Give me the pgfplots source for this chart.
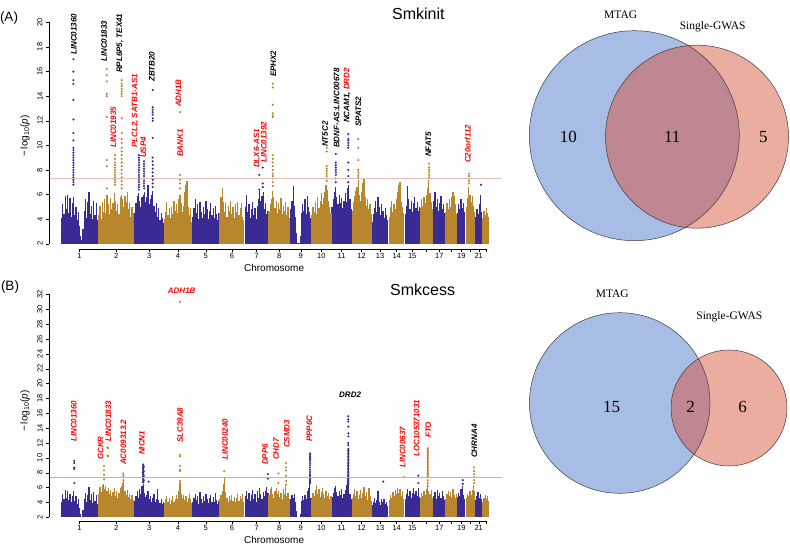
\documentclass[border=0pt]{standalone}
\usepackage{pgfplots}
\pgfplotsset{compat=1.18}
\usepackage{fontspec}
\setmainfont{Liberation Sans}
\newfontfamily\vennfont{Liberation Serif}
\definecolor{mblue}{RGB}{58,42,148}
\definecolor{mgold}{RGB}{184,134,44}
\definecolor{thrA}{RGB}{232,190,186}
\definecolor{thrB}{RGB}{246,160,140}
\definecolor{vblue}{RGB}{168,189,230}
\definecolor{vpink}{RGB}{234,173,160}
\definecolor{vover}{RGB}{190,135,145}
\definecolor{vline}{RGB}{60,60,60}
\tikzset{glab/.style={rotate=90, anchor=west, inner sep=0pt, font=\fontsize{8}{9}\selectfont\bfseries\itshape},
 hlab/.style={anchor=center, inner sep=0pt, font=\fontsize{8}{9}\selectfont\bfseries\itshape}}
\begin{document}
\begin{tikzpicture}
\useasboundingbox (0,0) rectangle (790pt,-545pt);
\pgfplotsset{
 manh/.style={scale only axis, width=452.7pt, xmin=-80, xmax=2958,
  clip mode=individual, axis on top, separate axis lines,
  axis x line*=bottom, axis y line*=left, tick align=outside,
  major tick length=3pt, tick style={black, line width=0.4pt},
  axis line style={black, line width=0.4pt},
  xtick={124.5,370.5,591,785.5,971.5,1147.5,1312.5,1465,1608.5,1747,1882.5,2017,2141.5,2252.5,2357,2453,2538.5,2618,2686.5,2747.5,2803,2852.5},
  xticklabels={1,2,3,4,5,6,7,8,9,10,11,12,13,14,15,,17,,19,,21,},
  tick label style={font=\fontsize{7.5}{8}\selectfont},
  xticklabel style={inner sep=1.5pt},
  yticklabel style={rotate=90, anchor=south},
  /pgf/number format/assume math mode=true,
  xlabel={Chromosome}, ylabel={−\,log\textsubscript{10}(\textit{p})},
  xlabel style={font=\fontsize{9.5}{11}\selectfont, inner sep=1pt},
  ylabel style={font=\fontsize{10.5}{12}\selectfont},
  every axis x label/.style={at={(axis description cs:0.497,-0.079)}, anchor=center},
 },
 comb/.style={ycomb, line width=1.25pt, no markers},
 dots/.style={only marks, mark=*, mark size=0.85pt},
}
\node[anchor=center, font=\fontsize{13.5}{15}\selectfont] at (9pt,-18pt) {(A)};
\node[anchor=center, font=\fontsize{13.5}{15}\selectfont] at (10pt,-287pt) {(B)};
% ---------------- Panel A ----------------
\begin{axis}[manh, at={(49.1pt,-249pt)}, anchor=south west, height=235.5pt,
  ymin=1.57, ymax=20.72, ytick={2,4,...,20},
  x axis line style={shorten <=30.5pt, shorten >=15.7pt},
  y axis line style={shorten <=5.3pt, shorten >=8.9pt},
  every axis y label/.style={at={(axis description cs:-0.053,0.48)}, rotate=90, anchor=center}]
\addplot[comb, mblue] table[row sep=\\]{x y\\
4 4.1\\12 5.2\\20 4.4\\28 5.9\\36 4.8\\44 6.0\\52 4.5\\60 5.7\\68 4.2\\76 5.3\\84 5.8\\92 4.3\\100 5.0\\108 3.9\\116 4.6\\124 3.4\\132 2.6\\140 2.3\\148 3.2\\156 4.7\\164 5.6\\172 4.1\\180 5.4\\188 6.2\\196 4.4\\204 5.1\\212 4.0\\220 5.5\\228 4.3\\236 5.3\\244 3.9\\
496 4.5\\504 5.3\\512 5.9\\520 6.1\\528 5.5\\536 5.0\\544 5.8\\552 6.0\\560 6.2\\568 5.4\\576 5.8\\584 6.8\\592 5.2\\600 5.6\\608 6.0\\616 6.3\\624 5.1\\632 4.6\\640 5.3\\648 4.2\\656 4.9\\664 3.9\\672 4.5\\680 4.1\\688 3.7\\
885 4.2\\893 4.9\\901 5.6\\909 4.5\\917 5.2\\925 4.0\\933 5.4\\941 4.6\\949 4.1\\957 5.0\\965 4.4\\973 5.5\\981 4.8\\989 4.0\\997 4.7\\1005 5.3\\1013 4.3\\1021 4.9\\1029 4.1\\1037 5.1\\1045 4.4\\1053 3.9\\1061 4.5\\
1237 5.0\\1245 6.0\\1253 4.6\\1261 5.2\\1269 4.1\\1277 4.8\\1285 5.4\\1293 4.3\\1301 4.9\\1309 4.0\\1317 5.1\\1325 5.6\\1333 6.3\\1341 5.5\\1349 5.9\\1357 6.2\\1365 4.8\\1373 5.3\\1381 4.4\\1389 4.7\\
1542 4.8\\1550 5.5\\1558 6.7\\1566 5.1\\1574 4.2\\1582 2.9\\1590 2.05\\1598 2.05\\1606 2.6\\1614 4.5\\1622 5.2\\1630 4.7\\1638 5.6\\1646 4.4\\1654 5.9\\1662 5.0\\1670 4.6\\1678 4.1\\
1819 5.0\\1827 5.6\\1835 6.2\\1843 6.6\\1851 5.8\\1859 5.2\\1867 6.0\\1875 5.3\\1883 5.7\\1891 4.9\\1899 5.5\\1907 6.1\\1915 5.4\\1923 6.5\\1931 6.8\\1939 5.6\\1947 4.8\\
2088 3.8\\2096 4.4\\2104 4.9\\2112 5.5\\2120 4.6\\2128 5.8\\2136 5.0\\2144 4.3\\2152 5.2\\2160 4.7\\2168 4.1\\2176 4.9\\2184 4.3\\2192 3.9\\
2310 4.4\\2318 5.1\\2326 6.7\\2334 5.6\\2342 4.8\\2350 5.5\\2358 4.6\\2366 5.3\\2374 5.8\\2382 4.9\\2390 5.4\\2398 4.7\\2406 5.0\\
2502 5.5\\2510 6.2\\2518 5.0\\2526 5.6\\2534 4.7\\2542 5.3\\2550 5.9\\2558 4.8\\2566 5.2\\2574 4.5\\
2661 4.5\\2669 5.2\\2677 4.8\\2685 5.6\\2693 4.9\\2701 5.3\\2709 4.6\\
2783 4.2\\2791 4.8\\2799 4.4\\2807 5.2\\2815 6.0\\2823 4.6\\
};
\addplot[comb, mgold] table[row sep=\\]{x y\\
253 4.3\\261 5.1\\269 4.0\\277 5.4\\285 4.6\\293 5.6\\301 4.5\\309 6.0\\317 5.2\\325 4.4\\333 5.7\\341 4.8\\349 5.3\\357 6.1\\365 5.5\\373 4.7\\381 5.2\\389 4.4\\397 5.8\\405 6.0\\413 5.6\\421 5.0\\429 5.9\\437 5.4\\445 6.2\\453 4.8\\461 5.3\\469 4.2\\477 5.0\\485 4.5\\
694 4.0\\702 4.6\\710 5.4\\718 4.3\\726 4.9\\734 4.1\\742 5.0\\750 4.4\\758 5.5\\766 4.7\\774 5.2\\782 4.5\\790 5.6\\798 6.0\\806 5.3\\814 4.6\\822 5.1\\830 6.2\\838 6.8\\846 7.1\\854 5.0\\862 4.3\\870 4.9\\878 3.8\\
1066 4.5\\1074 5.8\\1082 6.5\\1090 5.4\\1098 4.6\\1106 5.3\\1114 4.2\\1122 5.1\\1130 4.7\\1138 5.5\\1146 4.4\\1154 5.0\\1162 4.1\\1170 5.2\\1178 4.6\\1186 5.4\\1194 4.3\\1202 4.9\\1210 5.3\\1218 4.2\\1226 3.9\\
1396 4.6\\1404 5.2\\1412 5.6\\1420 6.3\\1428 5.8\\1436 4.9\\1444 5.5\\1452 4.5\\1460 5.3\\1468 4.8\\1476 5.7\\1484 4.4\\1492 5.1\\1500 4.7\\1508 5.4\\1516 4.3\\1524 5.0\\1532 4.1\\
1683 4.3\\1691 5.0\\1699 4.6\\1707 5.4\\1715 4.4\\1723 5.8\\1731 4.9\\1739 5.5\\1747 6.1\\1755 5.2\\1763 5.7\\1771 6.2\\1779 6.8\\1787 6.4\\1795 5.5\\1803 5.0\\1811 4.5\\
1954 4.7\\1962 5.4\\1970 5.9\\1978 6.3\\1986 6.6\\1994 7.2\\2002 6.0\\2010 5.5\\2018 6.2\\2026 6.9\\2034 7.3\\2042 5.8\\2050 5.1\\2058 5.6\\2066 4.8\\2074 5.2\\2082 4.4\\
2203 4.2\\2211 5.0\\2219 5.5\\2227 4.6\\2235 5.2\\2243 4.8\\2251 5.6\\2259 6.2\\2267 6.8\\2275 7.0\\2283 5.4\\2291 5.0\\2299 4.5\\
2412 4.9\\2420 5.6\\2428 5.1\\2436 5.8\\2444 5.3\\2452 6.0\\2460 6.5\\2468 7.2\\2476 6.1\\2484 5.4\\2492 4.8\\
2583 4.6\\2591 5.3\\2599 4.8\\2607 5.6\\2615 5.0\\2623 5.8\\2631 6.2\\2639 5.9\\2647 5.2\\2655 4.4\\
2720 5.0\\2728 5.7\\2736 6.6\\2744 6.0\\2752 5.4\\2760 5.9\\2768 5.1\\2776 4.6\\
2831 4.1\\2839 4.7\\2847 4.3\\2855 4.9\\2863 4.5\\2871 4.2\\
};
\fill[white] (axis cs:-80,1.57) rectangle (axis cs:2958,1.99);
\addplot[dots, mblue] table[row sep=\\]{x y\\
83 17.0\\83 16.0\\83 15.3\\83 15.0\\83 13.7\\83 12.1\\83 11.0\\83 10.4\\83 9.8\\83 9.6\\83 9.4\\83 9.2\\83 9.0\\83 8.8\\83 8.6\\83 8.4\\83 8.2\\83 8.0\\83 7.8\\83 7.6\\83 7.4\\83 7.2\\83 7.0\\83 6.8\\
523 9.2\\523 9.0\\523 8.8\\523 8.6\\523 8.4\\523 8.2\\523 8.0\\523 7.8\\523 7.6\\523 7.4\\523 7.2\\523 7.0\\523 6.8\\523 6.6\\523 6.4\\
557 8.7\\557 8.5\\557 8.3\\557 8.1\\557 7.9\\557 7.7\\557 7.5\\557 7.3\\557 7.1\\557 6.9\\557 6.7\\557 6.5\\
615 14.5\\615 13.1\\615 12.9\\615 12.7\\615 12.5\\615 12.2\\615 12.0\\615 10.6\\615 9.0\\615 8.7\\615 8.4\\615 8.1\\615 7.8\\615 7.5\\615 7.2\\615 6.9\\615 6.6\\
1331 7.6\\1331 6.4\\1354 8.2\\1354 6.9\\1354 6.6\\
1844 9.3\\1844 8.6\\1844 8.4\\1844 8.2\\1844 8.0\\1844 7.8\\1844 7.6\\1844 7.3\\1844 7.0\\
1928 10.9\\1928 10.5\\1928 10.4\\1928 10.2\\1928 10.0\\1928 9.8\\1928 8.6\\1928 8.0\\1928 7.5\\1928 7.0\\
2818 6.8\\
};
\addplot[dots, mgold] table[row sep=\\]{x y\\
307 16.2\\307 15.7\\307 15.2\\307 14.2\\307 14.0\\307 12.3\\307 8.8\\307 8.3\\307 6.5\\
362 9.2\\362 8.9\\362 8.6\\362 8.4\\362 8.2\\362 8.0\\362 7.8\\362 7.6\\362 7.4\\362 7.2\\362 7.0\\362 6.8\\
407 15.3\\407 15.0\\407 14.8\\407 14.6\\407 14.4\\407 14.2\\407 14.0\\407 12.2\\407 11.0\\407 10.5\\407 10.2\\407 9.8\\407 9.5\\407 9.2\\407 8.9\\407 8.6\\407 8.3\\407 8.0\\407 7.7\\407 7.4\\407 7.1\\407 6.8\\407 6.5\\
799 12.7\\799 7.6\\799 7.2\\799 6.9\\799 6.5\\
1421 15.0\\1421 14.7\\1421 13.3\\1421 12.6\\1421 12.4\\1421 12.3\\1421 9.2\\1421 8.9\\1421 8.6\\1421 8.3\\1421 8.0\\1421 7.7\\1421 7.5\\1421 7.3\\1421 7.0\\1421 6.7\\
1783 9.8\\1783 9.5\\1783 8.3\\1783 8.1\\1783 7.9\\1783 7.7\\1783 7.5\\1783 7.3\\1783 7.1\\
1995 10.5\\1995 9.8\\1995 8.8\\1995 8.0\\1995 7.8\\1995 7.6\\1995 7.4\\
2470 8.5\\2470 8.2\\2470 8.0\\2470 7.8\\2470 7.6\\2470 7.4\\
2738 7.7\\2738 7.5\\2738 7.3\\2738 7.1\\2738 6.9\\
};
\draw[thrA, line width=1pt] (axis cs:-80,7.3) -- (axis cs:2958,7.3);
\node[glab] at (axis cs:87,17.34) {LINC01360};
\node[glab] at (axis cs:289,16.77) {LINC01833};
\node[glab] at (axis cs:396,15.88) {RPL6P5, TEX41};
\node[glab] at (axis cs:609,15.15) {ZBTB20};
\node[glab, text=red] at (axis cs:351,9.78) {LINC01935};
\node[glab, text=red] at (axis cs:497,9.78) {PLCL2, SATB1-AS1};
\node[glab, text=red] at (axis cs:552,8.97) {USP4};
\node[glab, text=red] at (axis cs:787,13.11) {ADH1B};
\node[glab, text=red] at (axis cs:799,9.05) {BANK1};
\node[glab, text=red] at (axis cs:1313,8.15) {DLX6-AS1};
\node[glab, text=red] at (axis cs:1362,8.56) {LINC01392};
\node[glab] at (axis cs:1425,15.55) {EPHX2};
\node[glab] at (axis cs:1772,9.86) {NT5C2};
\node[glab] at (axis cs:1850,9.78) {BDNF-AS:LINC00678};
\node[glab] at (axis cs:1921,11.81) {NCAM1, \textcolor{red}{DRD2}};
\node[glab] at (axis cs:1995,11.49) {SPATS2};
\node[glab] at (axis cs:2465,9.05) {NFAT5};
\node[glab, text=red] at (axis cs:2729,8.56) {C20orf112};
\node[font=\fontsize{16}{18}\selectfont] at (axis description cs:0.8156,1.0) {Smkinit};
\end{axis}
% ---------------- Panel B ----------------
\begin{axis}[manh, at={(49.1pt,-521pt)}, anchor=south west, height=234pt,
  ymin=1.5, ymax=33, ytick={2,4,...,32},
  x axis line style={shorten <=30.5pt, shorten >=15.7pt},
  y axis line style={shorten <=3.7pt, shorten >=7.4pt},
  every axis y label/.style={at={(axis description cs:-0.053,0.47)}, rotate=90, anchor=center}]
\addplot[comb, mblue] table[row sep=\\]{x y\\
4 4.0\\12 5.1\\20 4.5\\28 5.7\\36 4.6\\44 5.5\\52 4.3\\60 5.2\\68 4.0\\76 4.8\\84 5.6\\92 4.2\\100 4.9\\108 3.8\\116 4.4\\124 3.3\\132 2.5\\140 2.05\\148 3.0\\156 4.5\\164 5.3\\172 4.1\\180 5.0\\188 6.1\\196 4.3\\204 5.2\\212 3.9\\220 5.4\\228 4.2\\236 5.0\\244 3.8\\
496 4.2\\504 4.9\\512 5.5\\520 4.6\\528 5.8\\536 5.1\\544 6.2\\552 6.5\\560 5.3\\568 4.7\\576 5.0\\584 5.6\\592 4.4\\600 4.9\\608 4.1\\616 4.6\\624 5.2\\632 4.0\\640 4.5\\648 5.8\\656 4.3\\664 3.9\\672 4.4\\680 3.8\\688 4.1\\
885 4.0\\893 4.6\\901 5.2\\909 4.3\\917 4.9\\925 3.8\\933 5.4\\941 4.4\\949 3.9\\957 4.8\\965 4.2\\973 5.1\\981 4.5\\989 3.9\\997 4.6\\1005 5.0\\1013 4.1\\1021 4.7\\1029 4.0\\1037 5.3\\1045 4.3\\1053 3.8\\1061 4.2\\
1237 4.8\\1245 5.6\\1253 4.5\\1261 5.3\\1269 4.2\\1277 5.0\\1285 5.7\\1293 4.4\\1301 5.1\\1309 4.0\\1317 5.5\\1325 4.6\\1333 5.9\\1341 5.2\\1349 4.5\\1357 5.4\\1365 4.8\\1373 5.6\\1381 6.1\\1389 5.3\\
1542 4.4\\1550 5.0\\1558 4.6\\1566 5.2\\1574 4.1\\1582 2.8\\1590 2.05\\1598 2.05\\1606 2.5\\1614 4.2\\1622 4.8\\1630 4.3\\1638 5.0\\1646 4.5\\1654 5.6\\1662 5.9\\1670 7.0\\1678 4.6\\
1819 4.7\\1827 5.3\\1835 5.9\\1843 6.2\\1851 5.4\\1859 4.8\\1867 5.6\\1875 5.0\\1883 5.8\\1891 4.6\\1899 5.2\\1907 5.7\\1915 6.3\\1923 7.5\\1931 6.8\\1939 5.1\\1947 4.5\\
2088 3.6\\2096 4.1\\2104 4.6\\2112 3.9\\2120 4.3\\2128 5.6\\2136 4.0\\2144 3.7\\2152 4.5\\2160 4.0\\2168 4.4\\2176 3.8\\2184 4.1\\2192 3.5\\
2310 4.5\\2318 5.2\\2326 5.8\\2334 4.9\\2342 5.5\\2350 4.6\\2358 5.3\\2366 6.0\\2374 5.1\\2382 5.6\\2390 4.8\\2398 5.9\\2406 4.7\\
2502 4.8\\2510 5.4\\2518 4.5\\2526 5.7\\2534 4.9\\2542 5.3\\2550 4.6\\2558 5.5\\2566 4.8\\2574 4.3\\
2661 4.7\\2669 5.3\\2677 4.9\\2685 5.8\\2693 6.2\\2701 5.0\\2709 4.5\\
2783 4.3\\2791 4.9\\2799 5.4\\2807 4.6\\2815 5.1\\2823 4.4\\
};
\addplot[comb, mgold] table[row sep=\\]{x y\\
253 5.2\\261 6.1\\269 5.4\\277 6.3\\285 6.5\\293 5.8\\301 6.2\\309 5.5\\317 6.0\\325 5.1\\333 5.7\\341 4.8\\349 5.4\\357 6.0\\365 4.9\\373 5.5\\381 4.6\\389 5.3\\397 5.9\\405 6.2\\413 6.6\\421 6.9\\429 5.6\\437 5.0\\445 5.7\\453 4.7\\461 5.2\\469 4.4\\477 5.0\\485 4.3\\
694 3.9\\702 4.4\\710 4.8\\718 4.1\\726 4.6\\734 3.8\\742 4.3\\750 4.9\\758 4.0\\766 4.5\\774 5.0\\782 4.4\\790 5.6\\798 6.6\\806 5.2\\814 4.6\\822 5.0\\830 4.3\\838 4.8\\846 4.1\\854 4.6\\862 5.2\\870 4.4\\878 3.9\\
1066 4.4\\1074 5.0\\1082 5.6\\1090 6.5\\1098 7.3\\1106 5.4\\1114 4.6\\1122 4.1\\1130 4.8\\1138 4.3\\1146 5.0\\1154 4.2\\1162 4.7\\1170 4.0\\1178 4.6\\1186 5.1\\1194 4.2\\1202 4.8\\1210 4.4\\1218 5.2\\1226 4.0\\
1396 5.0\\1404 5.8\\1412 6.1\\1420 5.2\\1428 4.6\\1436 5.5\\1444 6.0\\1452 5.1\\1460 5.6\\1468 4.7\\1476 5.3\\1484 4.5\\1492 5.8\\1500 5.2\\1508 6.2\\1516 4.8\\1524 5.3\\1532 4.4\\
1683 4.5\\1691 5.3\\1699 4.8\\1707 5.7\\1715 6.3\\1723 5.1\\1731 5.8\\1739 4.7\\1747 5.4\\1755 6.0\\1763 5.2\\1771 4.6\\1779 5.5\\1787 4.9\\1795 5.3\\1803 4.4\\1811 4.8\\
1954 4.6\\1962 5.2\\1970 5.8\\1978 4.9\\1986 5.5\\1994 4.4\\2002 5.0\\2010 5.7\\2018 4.6\\2026 5.3\\2034 6.1\\2042 4.8\\2050 5.4\\2058 4.3\\2066 6.0\\2074 4.9\\2082 4.2\\
2203 4.3\\2211 5.0\\2219 4.6\\2227 5.4\\2235 4.8\\2243 5.7\\2251 5.1\\2259 6.0\\2267 5.3\\2275 5.8\\2283 4.9\\2291 5.5\\2299 4.5\\
2412 4.6\\2420 5.3\\2428 4.9\\2436 5.6\\2444 5.0\\2452 5.8\\2460 6.6\\2468 5.5\\2476 5.1\\2484 5.7\\2492 4.6\\
2583 4.4\\2591 5.1\\2599 5.6\\2607 4.8\\2615 5.4\\2623 4.7\\2631 5.8\\2639 5.0\\2647 4.6\\2655 5.2\\
2720 4.6\\2728 5.2\\2736 4.8\\2744 5.5\\2752 5.0\\2760 5.7\\2768 6.4\\2776 5.6\\
2831 4.0\\2839 4.6\\2847 5.0\\2855 4.4\\2863 4.8\\2871 4.2\\
};
\fill[white] (axis cs:-80,1.5) rectangle (axis cs:2958,1.99);
\addplot[dots, mblue] table[row sep=\\]{x y\\
89 9.6\\89 9.3\\89 8.7\\89 8.5\\89 6.6\\
552 9.1\\552 8.9\\552 8.7\\552 8.5\\552 8.3\\552 8.1\\552 7.9\\552 7.7\\552 7.5\\552 7.3\\552 7.1\\552 6.9\\552 6.7\\
549 8.6\\549 8.0\\549 7.4\\549 6.8\\555 8.8\\555 8.2\\555 7.6\\555 7.0\\
588 6.8\\1388 7.8\\1388 7.2\\
1671 10.6\\1671 10.4\\1671 10.2\\1671 10.0\\1671 9.8\\1671 9.6\\1671 9.3\\1671 9.0\\1671 8.7\\1671 8.4\\1671 8.1\\1671 7.8\\1671 7.6\\1671 7.4\\1671 7.2\\1671 7.0\\1671 6.8\\1671 6.6\\
1928 15.6\\1928 15.2\\1928 14.9\\1928 14.2\\1928 13.3\\1928 12.9\\1928 12.0\\1928 11.7\\1928 11.2\\1928 11.0\\1928 10.8\\1928 10.6\\1928 10.4\\1928 10.2\\1928 10.0\\1928 9.8\\1928 9.6\\1928 9.4\\1928 9.2\\1928 9.0\\1928 8.8\\1928 8.6\\1928 8.4\\1928 8.2\\1928 8.0\\1928 7.8\\1928 7.6\\1928 7.4\\1928 7.2\\1928 7.0\\1928 6.8\\1928 6.6\\1928 6.4\\
2163 6.8\\2398 7.6\\2398 6.6\\2696 7.0\\2696 6.5\\
};
\addplot[dots, mgold] table[row sep=\\]{x y\\
289 8.9\\289 8.3\\289 7.7\\289 7.1\\
312 11.4\\312 10.3\\316 11.3\\316 10.2\\
418 7.9\\418 7.6\\418 7.4\\418 7.0\\
799 31.0\\799 10.4\\799 10.2\\799 8.9\\799 8.4\\799 8.2\\799 6.9\\799 6.6\\799 6.3\\
1096 8.2\\1459 7.9\\1459 6.6\\
1510 9.3\\1510 8.7\\1510 8.3\\1510 7.6\\1510 6.9\\1510 6.4\\
2302 7.4\\
2461 11.3\\2461 11.1\\2461 10.9\\2461 10.7\\2461 10.5\\2461 10.3\\2461 10.1\\2461 9.9\\2461 9.7\\2461 9.5\\2461 9.3\\2461 9.1\\2461 8.9\\2461 8.7\\2461 8.5\\2461 8.3\\2461 8.1\\2461 7.9\\2461 7.7\\2461 7.5\\2461 7.0\\2461 6.6\\2461 6.2\\
2772 8.7\\2772 8.2\\2772 7.8\\2772 7.4\\2772 7.0\\2772 6.6\\
};
\draw[thrB, line width=1pt] (axis cs:-80,7.3) -- (axis cs:2958,7.3);
\node[hlab, text=red] at (axis cs:810,32.5) {ADH1B};
\node[glab, text=red] at (axis cs:87,12.13) {LINC01360};
\node[glab, text=red] at (axis cs:266,9.71) {GCKR};
\node[glab, text=red] at (axis cs:317,12.13) {LINC01833};
\node[glab, text=red] at (axis cs:418,9.04) {AC009313.2};
\node[glab, text=red] at (axis cs:542,10.38) {NICN1};
\node[glab, text=red] at (axis cs:799,12.0) {SLC39A8};
\node[glab, text=red] at (axis cs:1101,9.71) {LINC00240};
\node[glab, text=red] at (axis cs:1369,9.04) {DPP6};
\node[glab, text=red] at (axis cs:1443,9.71) {CHD7};
\node[glab, text=red] at (axis cs:1515,11.33) {CSMD3};
\node[glab, text=red] at (axis cs:1666,12.13) {PPP6C};
\node[hlab] at (axis cs:1940,18.46) {DRD2};
\node[glab, text=red] at (axis cs:2293,8.64) {LINC00637};
\node[glab, text=red] at (axis cs:2387,10.12) {LOC105371031};
\node[glab, text=red] at (axis cs:2465,12.67) {FTO};
\node[glab] at (axis cs:2774,9.98) {CHRNA4};
\node[font=\fontsize{16}{18}\selectfont] at (axis description cs:0.825,0.99) {Smkcess};
\end{axis}
% ---------------- Venn diagrams ----------------
\begin{axis}[at={(500pt,-545pt)}, anchor=south west, scale only axis,
  width=290pt, height=545pt, xmin=500, xmax=790, ymin=-545, ymax=0,
  hide axis, clip=false]
\addplot[draw=none] coordinates {(500,0)};
\fill[vblue] (axis cs:634.3,-135.7) circle[radius=105pt];
\fill[vpink] (axis cs:697,-136.7) circle[radius=91.5pt];
\begin{scope}
\clip (axis cs:634.3,-135.7) circle[radius=105pt];
\fill[vover] (axis cs:697,-136.7) circle[radius=91.5pt];
\end{scope}
\draw[vline, line width=0.5pt] (axis cs:634.3,-135.7) circle[radius=105pt];
\draw[vline, line width=0.5pt] (axis cs:697,-136.7) circle[radius=91.5pt];
\node[font=\vennfont\fontsize{17}{19}\selectfont] at (axis cs:568.3,-136.7) {10};
\node[font=\vennfont\fontsize{17}{19}\selectfont] at (axis cs:672.3,-136.7) {11};
\node[font=\vennfont\fontsize{17}{19}\selectfont] at (axis cs:763.3,-136.7) {5};
\node[font=\vennfont\fontsize{11.5}{13}\selectfont] at (axis cs:620.7,-15) {MTAG};
\node[font=\vennfont\fontsize{11.5}{13}\selectfont] at (axis cs:712.7,-26.7) {Single-GWAS};
\fill[vblue] (axis cs:619.7,-403) circle[radius=90.3pt];
\fill[vpink] (axis cs:729,-408) circle[radius=58pt];
\begin{scope}
\clip (axis cs:619.7,-403) circle[radius=90.3pt];
\fill[vover] (axis cs:729,-408) circle[radius=58pt];
\end{scope}
\draw[vline, line width=0.5pt] (axis cs:619.7,-403) circle[radius=90.3pt];
\draw[vline, line width=0.5pt] (axis cs:729,-408) circle[radius=58pt];
\node[font=\vennfont\fontsize{17}{19}\selectfont] at (axis cs:611.7,-406.7) {15};
\node[font=\vennfont\fontsize{17}{19}\selectfont] at (axis cs:690.7,-406.7) {2};
\node[font=\vennfont\fontsize{17}{19}\selectfont] at (axis cs:742.7,-406.7) {6};
\node[font=\vennfont\fontsize{11.5}{13}\selectfont] at (axis cs:612.3,-294) {MTAG};
\node[font=\vennfont\fontsize{11.5}{13}\selectfont] at (axis cs:729.3,-316.7) {Single-GWAS};
\end{axis}
\end{tikzpicture}
\end{document}
